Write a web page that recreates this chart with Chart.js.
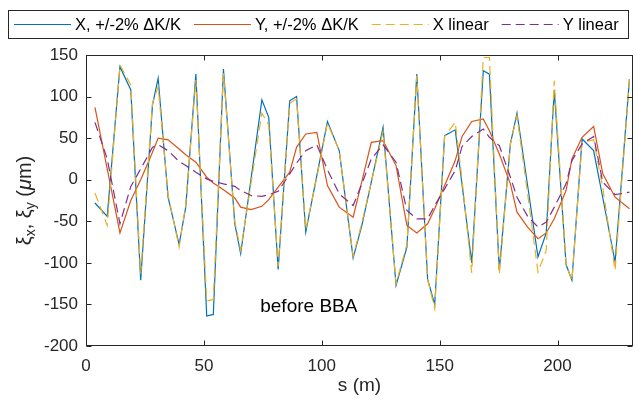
<!DOCTYPE html>
<html><head><meta charset="utf-8">
<script src="https://cdn.jsdelivr.net/npm/chart.js@4.4.0/dist/chart.umd.min.js"></script>
<style>html,body{margin:0;padding:0;background:#fff;}#wrap{width:636px;height:401px;position:relative;}</style>
</head><body><div id="wrap"><canvas id="c" width="636" height="401"></canvas></div>
<script>
// BPM positions s (m)
const sPos = [3.8, 9.0, 14.4, 19.0, 23.2, 28.2, 30.6, 34.8, 39.5, 42.3, 46.6, 51.2, 54.0, 58.3, 63.1, 65.6, 70.0, 74.6, 77.5, 81.5, 86.4, 89.3, 93.2, 97.9, 102.4, 107.4, 113.3, 117.0, 121.0, 126.0, 131.5, 136.1, 140.3, 144.9, 147.9, 152.1, 156.6, 159.5, 163.6, 168.5, 171.1, 175.3, 180.0, 182.8, 187.3, 191.7, 195.2, 198.6, 203.6, 206.1, 210.4, 215.3, 219.2, 224.4, 230.5];
// X, +/-2% dK/K (um)
const xErr = [-28, -44, 136, 108, -121, 90, 122, -21, -78, -33, 127, -164, -162, 133, -53, -89, 1, 96, 75, -108, 95, 100, -63, 5, 70, 35, -94, -55, -3, 63, -127, -81, 127, -120, -150, 53, 60, -6, -100, 131, 127, -109, 43, 80, -7, -93, -64, 108, -102, -121, 49, 35, -22, -99, 121];
// Y, +/-2% dK/K (um)
const yErr = [87, 13, -64, -25, 0, 33, 50, 48, 37, 30, 21, 3, -4, -12, -22, -33, -36, -32, -24, -9, 9, 39, 55, 57, -7, -33, -45, -2, 45, 47, 17, -55, -64, -53, -35, -7, 23, 52, 70, 73, 59, 31, -5, -39, -57, -71, -64, -47, -13, 25, 51, 64, 7, -21, -35];
// X linear (um)
const xLin = [-16, -55, 138, 114, -113, 92, 112, -18, -81, -30, 120, -146, -144, 128, -50, -85, -4, 80, 66, -104, 92, 97, -60, 3, 68, 35, -92, -52, -3, 58, -125, -78, 125, -120, -155, 52, 69, 0, -112, 147, 147, -114, 43, 77, -17, -111, -85, 119, -102, -121, 45, 48, -10, -109, 121];
// Y linear (um)
const yLin = [69, 25, -53, -8, 13, 39, 42, 35, 22, 17, 9, 1, -2, -5, -8, -13, -19, -20, -18, -14, 7, 20, 35, 42, 12, -17, -31, -5, 25, 42, 21, -37, -47, -47, -31, -11, 11, 40, 52, 61, 51, 41, 3, -21, -44, -57, -51, -33, -5, 23, 43, 52, -3, -18, -15];

const seriesLabels = ['X, +/-2% \u0394K/K', 'Y, +/-2% \u0394K/K', 'X linear', 'Y linear'];
const seriesColors = ['#0072BD', '#D95319', '#EDB120', '#7E2F8E'];
const xTicks = [0, 50, 100, 150, 200];
const yTicks = [-200, -150, -100, -50, 0, 50, 100, 150];
const annotText = 'before BBA';
const annotS = 73.9, annotV = -159;

const FONT = '"Liberation Sans", Arial, Helvetica, sans-serif';
const AX = '#262626';

function pts(vals) { return sPos.map((s, i) => ({x: s, y: vals[i]})); }

const framePlugin = {
  id: 'frame',
  afterDraw(chart) {
    const {ctx, chartArea: a, scales: {x, y}} = chart;
    ctx.save();
    ctx.strokeStyle = AX; ctx.lineWidth = 1; ctx.setLineDash([]);
    const L = Math.round(a.left) + 0.5, R = Math.round(a.right) - 0.5;
    const T = Math.round(a.top) + 0.5, B = Math.round(a.bottom) - 0.5;
    ctx.strokeRect(L, T, R - L, B - T);
    const tl = 5;
    ctx.beginPath();
    xTicks.forEach(v => {
      const p = Math.round(x.getPixelForValue(v)) + 0.5;
      ctx.moveTo(p, B); ctx.lineTo(p, B - tl);
      ctx.moveTo(p, T); ctx.lineTo(p, T + tl);
    });
    yTicks.forEach(v => {
      const p = Math.round(y.getPixelForValue(v)) + 0.5;
      ctx.moveTo(L, p); ctx.lineTo(L + tl, p);
      ctx.moveTo(R, p); ctx.lineTo(R - tl, p);
    });
    ctx.stroke();

    // annotation
    ctx.fillStyle = '#000';
    ctx.font = '19px ' + FONT;
    ctx.textAlign = 'left'; ctx.textBaseline = 'alphabetic';
    ctx.fillText(annotText, x.getPixelForValue(annotS), y.getPixelForValue(annotV));

    // y axis title with subscripts
    ctx.translate(24, (a.top + a.bottom) / 2);
    ctx.rotate(-Math.PI / 2);
    const parts = [
      {t: '\u03BE', f: '20px ' + FONT, dy: 0},
      {t: 'x', f: '14px ' + FONT, dy: 4},
      {t: ', \u03BE', f: '20px ' + FONT, dy: 0},
      {t: 'y', f: '14px ' + FONT, dy: 4},
      {t: ' (', f: '20px ' + FONT, dy: 0},
      {t: '\u03BC', f: 'italic 20px ' + FONT, dy: 0},
      {t: 'm)', f: '20px ' + FONT, dy: 0}
    ];
    let w = 0;
    parts.forEach(p => { ctx.font = p.f; w += ctx.measureText(p.t).width; });
    let cx = -w / 2;
    ctx.fillStyle = AX;
    parts.forEach(p => { ctx.font = p.f; ctx.fillText(p.t, cx, 7 + p.dy); cx += ctx.measureText(p.t).width; });
    ctx.restore();

    // legend
    ctx.save();
    const lx0 = 8, ly0 = 10, lx1 = 628, ly1 = 38;
    ctx.fillStyle = '#fff';
    ctx.fillRect(lx0, ly0, lx1 - lx0, ly1 - ly0);
    ctx.strokeStyle = AX; ctx.lineWidth = 1;
    ctx.strokeRect(lx0 + 0.5, ly0 + 0.5, lx1 - lx0, ly1 - ly0);
    ctx.font = '16.5px ' + FONT;
    ctx.textBaseline = 'middle'; ctx.textAlign = 'left';
    const cy = (ly0 + ly1) / 2 + 0.5;
    let px = 14;
    chart.data.datasets.forEach(ds => {
      ctx.strokeStyle = ds.borderColor; ctx.lineWidth = ds.borderWidth;
      ctx.setLineDash(ds.borderDash || []);
      ctx.beginPath(); ctx.moveTo(px, cy); ctx.lineTo(px + 57, cy); ctx.stroke();
      ctx.setLineDash([]);
      px += 61;
      ctx.fillStyle = '#000';
      ctx.fillText(ds.label, px, cy + 1);
      px += ctx.measureText(ds.label).width + 13;
    });
    ctx.restore();
  }
};

const dashes = [null, null, [9, 5], [9, 5]];
const allVals = [xErr, yErr, xLin, yLin];
const datasets = allVals.map((vals, i) => ({
  label: seriesLabels[i],
  data: pts(vals),
  borderColor: seriesColors[i],
  backgroundColor: seriesColors[i],
  borderWidth: 1.2,
  borderDash: dashes[i] || [],
  pointRadius: 0,
  tension: 0,
  fill: false,
  order: 4 - i
}));

new Chart(document.getElementById('c'), {
  type: 'line',
  data: {datasets},
  options: {
    responsive: false,
    animation: false,
    devicePixelRatio: 1,
    layout: {padding: {left: 0, right: 3, top: 55, bottom: 0}},
    plugins: {legend: {display: false}, tooltip: {enabled: false}},
    scales: {
      x: {
        type: 'linear', min: 0, max: 232,
        afterBuildTicks: s => { s.ticks = xTicks.map(v => ({value: v})); },
        afterFit: s => { s.height = 55; },
        grid: {display: false, drawTicks: false},
        border: {display: false},
        ticks: {color: AX, font: {family: FONT, size: 17}, padding: 10, maxRotation: 0},
        title: {display: true, text: 's (m)', color: AX, font: {family: FONT, size: 19}, padding: {top: 0, bottom: 4}}
      },
      y: {
        type: 'linear', min: -200, max: 150,
        afterBuildTicks: s => { s.ticks = yTicks.map(v => ({value: v})); },
        afterFit: s => { s.width = 86; },
        grid: {display: false, drawTicks: false},
        border: {display: false},
        ticks: {color: AX, font: {family: FONT, size: 17}, padding: 8}
      }
    }
  },
  plugins: [framePlugin]
});
</script></body></html>
